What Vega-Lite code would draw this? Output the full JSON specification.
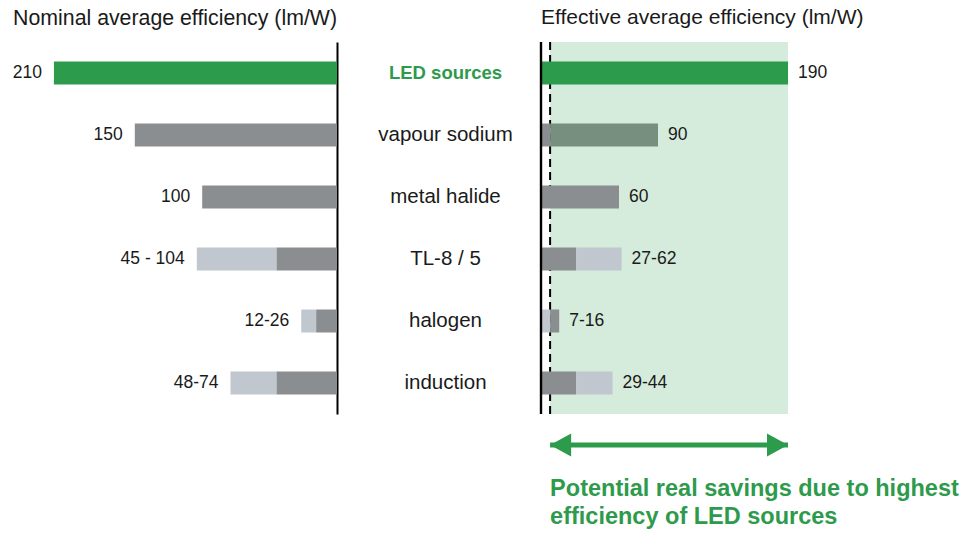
{
  "$schema": "https://vega.github.io/schema/vega-lite/v6.json",
  "padding": {"left": 0, "top": 6, "right": 0, "bottom": 0},
  "background": "white",
  "config": {"view": {"stroke": null}, "font": "Liberation Sans"},
  "bounds": "flush",
  "spacing": 204,
  "datasets": {
    "bars": [
      {"source": "LED sources", "panel": "nominal", "seg": "led", "start": 0, "end": 210},
      {"source": "vapour sodium", "panel": "nominal", "seg": "dark", "start": 0, "end": 150},
      {"source": "metal halide", "panel": "nominal", "seg": "dark", "start": 0, "end": 100},
      {"source": "TL-8 / 5", "panel": "nominal", "seg": "dark", "start": 0, "end": 45},
      {"source": "TL-8 / 5", "panel": "nominal", "seg": "light", "start": 45, "end": 104},
      {"source": "halogen", "panel": "nominal", "seg": "dark", "start": 0, "end": 15.5},
      {"source": "halogen", "panel": "nominal", "seg": "light", "start": 15.5, "end": 26.5},
      {"source": "induction", "panel": "nominal", "seg": "dark", "start": 0, "end": 45},
      {"source": "induction", "panel": "nominal", "seg": "light", "start": 45, "end": 79},
      {"source": "LED sources", "panel": "effective", "seg": "led", "start": 0, "end": 190},
      {"source": "vapour sodium", "panel": "effective", "seg": "dark", "start": 0, "end": 7},
      {"source": "vapour sodium", "panel": "effective", "seg": "tinted", "start": 7, "end": 90},
      {"source": "metal halide", "panel": "effective", "seg": "dark", "start": 0, "end": 60},
      {"source": "TL-8 / 5", "panel": "effective", "seg": "dark", "start": 0, "end": 27},
      {"source": "TL-8 / 5", "panel": "effective", "seg": "light", "start": 27, "end": 62},
      {"source": "halogen", "panel": "effective", "seg": "light", "start": 0, "end": 7},
      {"source": "halogen", "panel": "effective", "seg": "dark", "start": 7, "end": 14},
      {"source": "induction", "panel": "effective", "seg": "dark", "start": 0, "end": 27},
      {"source": "induction", "panel": "effective", "seg": "light", "start": 27, "end": 55}
    ],
    "labels": [
      {"source": "LED sources", "panel": "nominal", "label": "210", "value": 210},
      {"source": "vapour sodium", "panel": "nominal", "label": "150", "value": 150},
      {"source": "metal halide", "panel": "nominal", "label": "100", "value": 100},
      {"source": "TL-8 / 5", "panel": "nominal", "label": "45 - 104", "value": 104},
      {"source": "halogen", "panel": "nominal", "label": "12-26", "value": 26.5},
      {"source": "induction", "panel": "nominal", "label": "48-74", "value": 79},
      {"source": "LED sources", "panel": "effective", "label": "190", "value": 190},
      {"source": "vapour sodium", "panel": "effective", "label": "90", "value": 90},
      {"source": "metal halide", "panel": "effective", "label": "60", "value": 60},
      {"source": "TL-8 / 5", "panel": "effective", "label": "27-62", "value": 62},
      {"source": "halogen", "panel": "effective", "label": "7-16", "value": 14},
      {"source": "induction", "panel": "effective", "label": "29-44", "value": 55}
    ],
    "savings": [
      {"from": 7, "to": 190, "note": "Potential real savings due to highest\nefficiency of LED sources"}
    ]
  },
  "hconcat": [
    {
      "width": 337,
      "height": 372,
      "title": {"text": "Nominal average efficiency (lm/W)", "anchor": "end", "frame": "group", "fontSize": 21.3, "fontWeight": "normal", "font": "Liberation Sans", "color": "#1a1a1a", "baseline": "alphabetic", "offset": -4},
      "layer": [
        {
          "data": {"name": "bars"},
          "transform": [{"filter": "datum.panel === 'nominal'"}],
          "mark": {"type": "bar", "height": 23},
          "encoding": {
            "x": {"field": "start", "type": "quantitative", "scale": {"domain": [0, 250], "reverse": true, "nice": false, "zero": false}, "axis": null},
            "x2": {"field": "end"},
            "y": {
              "field": "source", "type": "nominal",
              "scale": {"domain": ["LED sources", "vapour sodium", "metal halide", "TL-8 / 5", "halogen", "induction"], "paddingInner": 0, "paddingOuter": 0},
              "axis": {
                "orient": "right", "title": null, "ticks": false, "grid": false,
                "domain": true, "domainColor": "#000000", "domainWidth": 2,
                "labelAlign": "center", "labelBaseline": "middle", "labelPadding": 108,
                "labelFont": "Liberation Sans",
                "labelFontSize": {"condition": {"test": "datum.value === 'LED sources'", "value": 18.5}, "value": 20.5},
                "labelFontWeight": {"condition": {"test": "datum.value === 'LED sources'", "value": "bold"}, "value": "normal"},
                "labelColor": {"condition": {"test": "datum.value === 'LED sources'", "value": "#2e9a4c"}, "value": "#1a1a1a"}
              }
            },
            "color": {"field": "seg", "type": "nominal", "scale": {"domain": ["led", "dark", "light", "tinted"], "range": ["#2c9b4b", "#8a8e91", "#c0c7ce", "#768f7f"]}, "legend": null}
          }
        },
        {
          "data": {"name": "labels"},
          "transform": [{"filter": "datum.panel === 'nominal'"}],
          "mark": {"type": "text", "align": "right", "baseline": "middle", "dx": -12, "fontSize": 17.5, "color": "#1a1a1a"},
          "encoding": {
            "x": {"field": "value", "type": "quantitative"},
            "y": {"field": "source", "type": "nominal"},
            "text": {"field": "label"}
          }
        }
      ]
    },
    {
      "width": 428,
      "height": 434,
      "title": {"text": "Effective average efficiency (lm/W)", "anchor": "start", "frame": "group", "fontSize": 21, "fontWeight": "normal", "font": "Liberation Sans", "color": "#1a1a1a", "baseline": "alphabetic", "offset": -4},
      "layer": [
        {
          "data": {"name": "savings"},
          "mark": {"type": "rect", "color": "#d5ebdb"},
          "encoding": {
            "x": {"field": "from", "type": "quantitative", "scale": {"domain": [0, 329.2], "nice": false}, "axis": null},
            "x2": {"field": "to"},
            "y": {"datum": "LED sources", "type": "nominal", "bandPosition": 0,
                  "scale": {"domain": ["LED sources", "vapour sodium", "metal halide", "TL-8 / 5", "halogen", "induction", "savings"], "paddingInner": 0, "paddingOuter": 0}, "axis": null},
            "y2": {"datum": "induction", "bandPosition": 1}
          }
        },
        {
          "data": {"name": "savings"},
          "mark": {"type": "rule", "color": "#000000", "strokeWidth": 2, "strokeDash": [8, 5]},
          "encoding": {
            "x": {"field": "from", "type": "quantitative"},
            "y": {"datum": "LED sources", "type": "nominal", "bandPosition": 0},
            "y2": {"datum": "induction", "bandPosition": 1}
          }
        },
        {
          "data": {"name": "bars"},
          "transform": [{"filter": "datum.panel === 'effective'"}],
          "mark": {"type": "bar", "height": 23},
          "encoding": {
            "x": {"field": "start", "type": "quantitative"},
            "x2": {"field": "end"},
            "y": {"field": "source", "type": "nominal"},
            "color": {"field": "seg", "type": "nominal", "legend": null}
          }
        },
        {
          "data": {"name": "savings"},
          "mark": {"type": "rule", "color": "#000000", "strokeWidth": 2.4},
          "encoding": {
            "x": {"datum": 0, "type": "quantitative"},
            "y": {"datum": "LED sources", "type": "nominal", "bandPosition": 0},
            "y2": {"datum": "induction", "bandPosition": 1}
          }
        },
        {
          "data": {"name": "labels"},
          "transform": [{"filter": "datum.panel === 'effective'"}],
          "mark": {"type": "text", "align": "left", "baseline": "middle", "dx": 10, "fontSize": 17.5, "color": "#1a1a1a"},
          "encoding": {
            "x": {"field": "value", "type": "quantitative"},
            "y": {"field": "source", "type": "nominal"},
            "text": {"field": "label"}
          }
        },
        {
          "data": {"name": "savings"},
          "mark": {"type": "rule", "color": "#2c9b4b", "strokeWidth": 5},
          "encoding": {
            "x": {"field": "from", "type": "quantitative"},
            "x2": {"field": "to"},
            "y": {"datum": "savings", "type": "nominal"}
          }
        },
        {
          "data": {"name": "savings"},
          "mark": {"type": "point", "shape": "M0,0L2,-1.1L2,1.1Z", "filled": true, "size": 441, "color": "#2c9b4b", "opacity": 1, "strokeWidth": 0},
          "encoding": {
            "x": {"field": "from", "type": "quantitative"},
            "y": {"datum": "savings", "type": "nominal"}
          }
        },
        {
          "data": {"name": "savings"},
          "mark": {"type": "point", "shape": "M0,0L-2,-1.1L-2,1.1Z", "filled": true, "size": 441, "color": "#2c9b4b", "opacity": 1, "strokeWidth": 0},
          "encoding": {
            "x": {"field": "to", "type": "quantitative"},
            "y": {"datum": "savings", "type": "nominal"}
          }
        },
        {
          "data": {"name": "savings"},
          "mark": {"type": "text", "align": "left", "baseline": "alphabetic", "dy": 51, "fontSize": 23.5, "fontWeight": "bold", "color": "#2e9a4c", "lineBreak": "\n", "lineHeight": 28},
          "encoding": {
            "x": {"field": "from", "type": "quantitative"},
            "y": {"datum": "savings", "type": "nominal"},
            "text": {"field": "note"}
          }
        }
      ]
    }
  ]
}
